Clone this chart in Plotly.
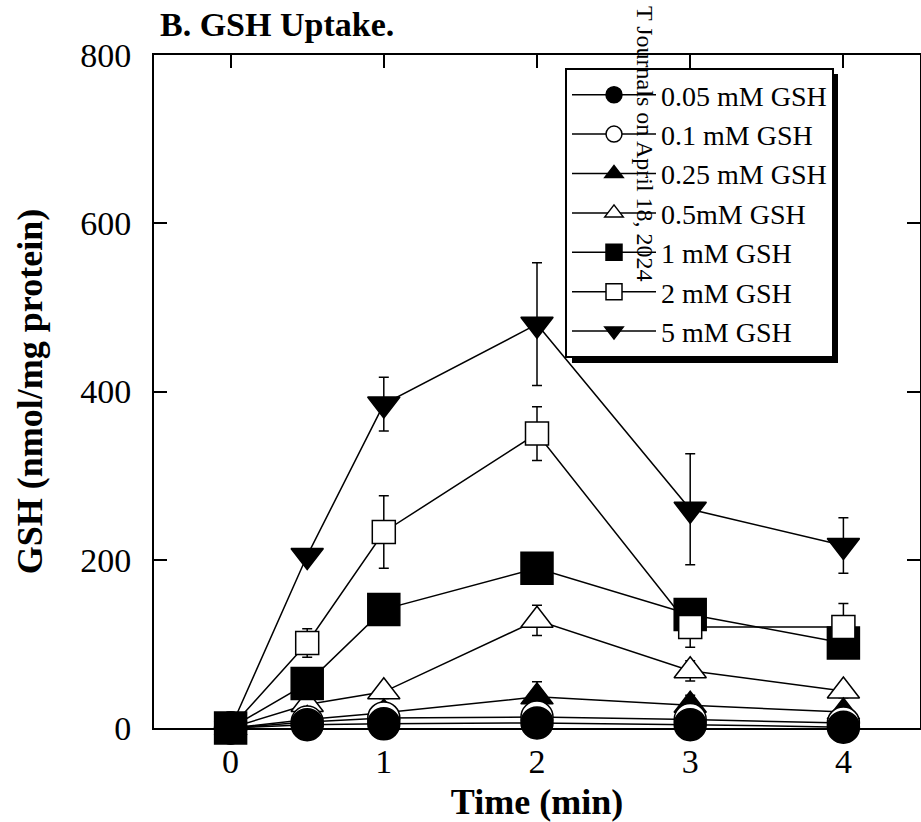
import plotly.graph_objects as go

time_min = [0, 0.5, 1, 2, 3, 4]

labels = ["0.05 mM GSH", "0.1 mM GSH", "0.25 mM GSH", "0.5mM GSH",
          "1 mM GSH", "2 mM GSH", "5 mM GSH"]

gsh_005 = [0, 4, 5, 6, 4, 1]
gsh_01 = [0, 7, 12, 13, 10, 6]
gsh_025 = [0, 10, 18, 37, 27, 19]
gsh_05 = [0, 28, 43, 128, 68, 44]
gsh_1 = [0, 53, 141, 190, 135, 101]
gsh_2 = [0, 101, 233, 350, 120, 120]
gsh_5 = [0, 205, 385, 480, 260, 217]

err_005 = [0, 1, 1, 2, 1, 1]
err_01 = [0, 2, 3, 3, 3, 2]
err_025 = [0, 3, 5, 18, 12, 6]
err_05 = [0, 5, 8, 18, 12, 8]
err_1 = [0, 6, 8, 10, 10, 8]
err_2 = [0, 17, 43, 32, 24, 28]
err_5 = [0, 0, 32, 73, 66, 33]

x_ticks = [0, 1, 2, 3, 4]
y_ticks = [0, 200, 400, 600, 800]

series = [
    # (values, errors, label index, symbol, fill, size)
    (gsh_5, err_5, 6, "triangle-down", "black", 28),
    (gsh_05, err_05, 3, "triangle-up", "white", 28),
    (gsh_025, err_025, 2, "triangle-up", "black", 28),
    (gsh_01, err_01, 1, "circle", "white", 32),
    (gsh_1, err_1, 4, "square", "black", 32),
    (gsh_2, err_2, 5, "square", "white", 23),
    (gsh_005, err_005, 0, "circle", "black", 32),
]

fig = go.Figure()
for vals, errs, li, sym, fill, sz in series:
    fig.add_trace(go.Scatter(
        x=time_min, y=vals, name=labels[li], legendrank=li + 1,
        mode="lines+markers",
        line=dict(color="black", width=1.5),
        marker=dict(symbol=sym, size=sz, color=fill,
                    line=dict(color="black", width=1.5)),
        error_y=dict(type="data", array=errs, visible=True,
                     color="black", thickness=1.5, width=5),
        cliponaxis=False,
    ))

serif = "Liberation Serif"
L, R, T, B = 154, 1, 55, 94
W, H = 921, 822
pw, ph = W - L - R, H - T - B

def px_x(p):
    return (p - L) / pw

def px_y(p):
    return (H - B - p) / ph

# legend drop shadow
fig.add_shape(type="rect", xref="paper", yref="paper",
              x0=px_x(572), x1=px_x(838), y0=px_y(363), y1=px_y(74),
              fillcolor="black", line=dict(width=0), layer="above")

fig.update_layout(
    width=W, height=H,
    margin=dict(l=L, r=R, t=T, b=B, autoexpand=False),
    paper_bgcolor="white", plot_bgcolor="white",
    font=dict(family=serif, color="black", size=34),
    title=dict(text="<b>B. GSH Uptake.</b>", x=px_x(160), xref="paper",
               xanchor="left", y=1 - 24 / H, yref="container",
               yanchor="middle", font=dict(family=serif, size=34)),
    showlegend=True,
    legend=dict(x=px_x(565), y=px_y(68), xanchor="left", yanchor="top",
                bgcolor="white", bordercolor="black", borderwidth=2,
                font=dict(family=serif, size=28), itemwidth=84,
                traceorder="normal"),
    xaxis=dict(range=[-0.5, 4.5], tickvals=x_ticks, ticks="inside",
               ticklen=13, tickwidth=1.5, tickcolor="black",
               showline=True, linecolor="black", linewidth=2,
               mirror="ticks", showgrid=False, zeroline=False,
               automargin=False,
               tickfont=dict(size=34), ticklabelstandoff=2,
               title=dict(text="<b>Time (min)</b>", standoff=10,
                          font=dict(size=36))),
    yaxis=dict(range=[0, 800], tickvals=y_ticks, ticks="inside",
               ticklen=13, tickwidth=1.5, tickcolor="black",
               showline=True, linecolor="black", linewidth=2,
               mirror="ticks", showgrid=False, zeroline=False,
               automargin=False,
               tickfont=dict(size=34), ticklabelstandoff=14,
               title=dict(text="<b>GSH (nmol/mg protein)</b>", standoff=27,
                          font=dict(size=36))),
)

fig.add_annotation(text="T Journals on April 18, 2024", textangle=90,
                   xref="paper", yref="paper", x=px_x(645), y=px_y(284),
                   xanchor="center", yanchor="bottom", showarrow=False,
                   font=dict(family=serif, size=24, color="black"))

fig.write_html("out.html",
               config={"displayModeBar": False},
               post_script="document.body.style.margin='0px';")
